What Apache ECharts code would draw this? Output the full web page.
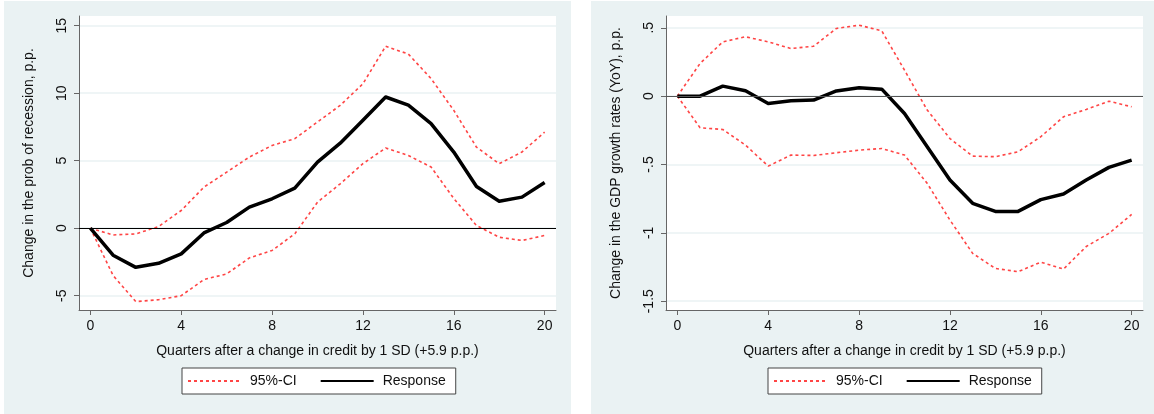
<!DOCTYPE html>
<html>
<head>
<meta charset="utf-8">
<script src="https://cdn.jsdelivr.net/npm/echarts@6/dist/echarts.min.js"></script>
<style>
  html, body { margin: 0; padding: 0; background: #fff; }
  #chart { width: 1154px; height: 414px; }
</style>
</head>
<body>
<div id="chart"></div>
<script>
// Quarters after the credit shock
const quarters = [0, 1, 2, 3, 4, 5, 6, 7, 8, 9, 10, 11, 12, 13, 14, 15, 16, 17, 18, 19, 20];

// Probability of recession, p.p.
const recResponse = [0, -2.0, -2.9, -2.6, -1.9, -0.35, 0.42, 1.56, 2.18, 2.97, 4.9, 6.3, 8.0, 9.72, 9.12, 7.75, 5.64, 3.09, 2.0, 2.3, 3.39];
const recUpper = [0, -0.5, -0.42, 0.12, 1.31, 3.04, 4.15, 5.27, 6.13, 6.63, 7.87, 9.1, 10.7, 13.48, 12.9, 11.08, 8.73, 6.0, 4.78, 5.64, 7.12];
const recLower = [0, -3.5, -5.44, -5.3, -5.0, -3.8, -3.39, -2.2, -1.65, -0.42, 1.93, 3.29, 4.78, 5.94, 5.39, 4.53, 2.2, 0.2, -0.67, -0.91, -0.54];

// GDP growth rates (YoY), p.p.
const gdpResponse = [0, 0, 0.073, 0.039, -0.054, -0.034, -0.029, 0.038, 0.061, 0.051, -0.127, -0.37, -0.614, -0.784, -0.843, -0.843, -0.757, -0.716, -0.614, -0.521, -0.468];
const gdpUpper = [0, 0.239, 0.397, 0.434, 0.397, 0.348, 0.365, 0.495, 0.519, 0.477, 0.19, -0.102, -0.31, -0.439, -0.443, -0.407, -0.297, -0.151, -0.097, -0.037, -0.078];
const gdpLower = [0, -0.231, -0.244, -0.358, -0.512, -0.431, -0.434, -0.414, -0.395, -0.383, -0.431, -0.638, -0.906, -1.15, -1.26, -1.284, -1.214, -1.265, -1.1, -1.004, -0.865];

// Axis ticks and labels
const xTicks = [0, 4, 8, 12, 16, 20];
const recTicks = [-5, 0, 5, 10, 15];
const gdpTicks = [-1.5, -1, -0.5, 0, 0.5];
const gdpTickLabels = ['-1.5', '-1', '-.5', '0', '.5'];

const xTitle = 'Quarters after a change in credit by 1 SD (+5.9 p.p.)';
const recTitle = 'Change in the prob of recession, p.p.';
const gdpTitle = 'Change in the GDP growth rates (YoY), p.p.';

const FONT = '"Liberation Sans", Arial, sans-serif';
const FS = 14;
const PANEL_BG = '#eaf2f3';
const AXIS_GRAY = '#666';
const CI_RED = '#ff4545';

const pairs = (ys) => quarters.map((q, i) => [q, ys[i]]);

function xAxisFor(gridIndex) {
  return {
    type: 'value', gridIndex, min: -0.5, max: 20.5,
    name: xTitle, nameLocation: 'middle', nameGap: 34,
    nameTextStyle: { fontFamily: FONT, fontSize: FS, color: '#111' },
    axisLine: { show: true, onZero: false, lineStyle: { color: AXIS_GRAY, width: 1 } },
    axisTick: { show: true, customValues: xTicks, length: 5, lineStyle: { color: AXIS_GRAY } },
    axisLabel: { customValues: xTicks, margin: 9, fontFamily: FONT, fontSize: FS, color: '#111' },
    splitLine: { show: false }
  };
}

function yAxisFor(gridIndex, min, max, ticks, fmt, title) {
  return {
    type: 'value', gridIndex, min, max,
    name: title, nameLocation: 'middle', nameGap: 43,
    nameTextStyle: { fontFamily: FONT, fontSize: FS, color: '#111' },
    axisLine: { show: true, onZero: false, lineStyle: { color: AXIS_GRAY, width: 1 } },
    axisTick: { show: true, customValues: ticks, length: 5, lineStyle: { color: AXIS_GRAY } },
    axisLabel: { customValues: ticks, rotate: 90, margin: 10, fontFamily: FONT, fontSize: FS, color: '#111', formatter: fmt },
    splitLine: { show: true, lineStyle: { color: PANEL_BG, width: 1.5 } }
  };
}

function ciSeries(idx, ys, zeroColor) {
  const s = {
    name: '95%-CI', type: 'line', xAxisIndex: idx, yAxisIndex: idx,
    data: pairs(ys), symbol: 'none', silent: true, z: 2,
    lineStyle: { color: CI_RED, width: 1.6, type: [3, 3] },
    itemStyle: { color: CI_RED }
  };
  if (zeroColor) {
    s.markLine = {
      silent: true, symbol: 'none', label: { show: false },
      lineStyle: { color: zeroColor, width: 1.2, type: 'solid' },
      data: [{ yAxis: 0 }], animation: false
    };
  }
  return s;
}

function respSeries(idx, ys) {
  return {
    name: 'Response', type: 'line', xAxisIndex: idx, yAxisIndex: idx,
    data: pairs(ys), symbol: 'none', silent: true, z: 3,
    lineStyle: { color: '#000', width: 3.5, join: 'round' },
    itemStyle: { color: '#000' }
  };
}

function legendAt(left) {
  return {
    left, top: 368, orient: 'horizontal',
    data: ['95%-CI', 'Response'],
    itemWidth: 53, itemHeight: 12, itemGap: 23,
    padding: [6, 10, 6, 5],
    backgroundColor: '#fff', borderColor: '#444', borderWidth: 1, borderRadius: 0,
    itemStyle: { opacity: 0 },
    textStyle: { fontFamily: FONT, fontSize: FS, color: '#111', padding: [0, 0, 0, 4] },
    selectedMode: false
  };
}

const chart = echarts.init(document.getElementById('chart'), null, { renderer: 'canvas' });

chart.setOption({
  animation: false,
  backgroundColor: '#fff',
  graphic: [
    { type: 'rect', z: -10, shape: { x: 4, y: 1, width: 567, height: 413 }, style: { fill: PANEL_BG }, silent: true },
    { type: 'rect', z: -10, shape: { x: 591, y: 1, width: 563, height: 413 }, style: { fill: PANEL_BG }, silent: true }
  ],
  grid: [
    { left: 79, top: 16, width: 477, height: 294, show: true, backgroundColor: '#fff', borderWidth: 0 },
    { left: 666, top: 16, width: 477, height: 294, show: true, backgroundColor: '#fff', borderWidth: 0 }
  ],
  xAxis: [xAxisFor(0), xAxisFor(1)],
  yAxis: [
    yAxisFor(0, -6.06, 15.72, recTicks, (v) => String(v), recTitle),
    yAxisFor(1, -1.564, 0.586, gdpTicks, (v) => gdpTickLabels[gdpTicks.indexOf(Math.round(v * 10) / 10)] ?? String(v), gdpTitle)
  ],
  legend: [legendAt(182), legendAt(768)],
  series: [
    ciSeries(0, recUpper, '#000'),
    ciSeries(0, recLower),
    respSeries(0, recResponse),
    ciSeries(1, gdpUpper, '#555'),
    ciSeries(1, gdpLower),
    respSeries(1, gdpResponse)
  ]
});
</script>
</body>
</html>
